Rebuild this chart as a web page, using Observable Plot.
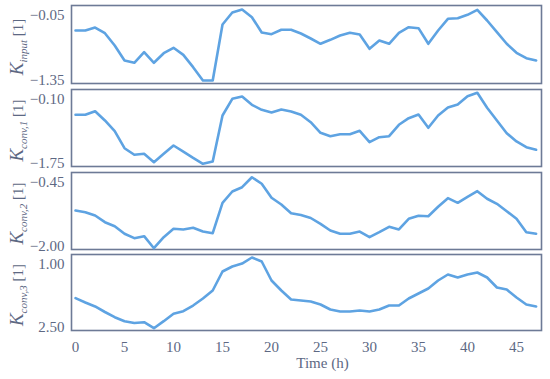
<!DOCTYPE html>
<html><head><meta charset="utf-8">
<script src="https://cdn.jsdelivr.net/npm/d3@7"></script>
<script src="https://cdn.jsdelivr.net/npm/@observablehq/plot@0.6"></script>
<style>
body{margin:0;background:#fff}
#c{position:relative;width:550px;height:379px;overflow:hidden;background:#fff}
#c svg{position:absolute;left:0;top:0;overflow:visible}
</style></head><body><div id="c"></div>
<script>
const hours = d3.range(0, 48);
const xTicks = [0, 5, 10, 15, 20, 25, 30, 35, 40, 45];
const kInput = [-0.467,-0.467,-0.417,-0.512,-0.717,-0.967,-1.005,-0.828,-1.005,-0.845,-0.755,-0.872,-1.078,-1.30,-1.30,-0.367,-0.167,-0.117,-0.245,-0.50,-0.528,-0.455,-0.455,-0.517,-0.60,-0.688,-0.622,-0.55,-0.505,-0.533,-0.772,-0.633,-0.688,-0.505,-0.412,-0.428,-0.688,-0.467,-0.272,-0.262,-0.205,-0.122,-0.30,-0.495,-0.688,-0.838,-0.928,-0.967];
const kConv1 = [-0.642,-0.642,-0.565,-0.764,-0.994,-1.358,-1.499,-1.478,-1.658,-1.478,-1.30,-1.429,-1.564,-1.692,-1.643,-0.657,-0.299,-0.25,-0.428,-0.535,-0.593,-0.529,-0.571,-0.642,-0.801,-1.028,-1.101,-1.058,-1.058,-0.985,-1.229,-1.122,-1.101,-0.856,-0.715,-0.636,-0.921,-0.657,-0.486,-0.421,-0.244,-0.171,-0.492,-0.764,-1.036,-1.214,-1.336,-1.392];
const kConv2 = [-1.215,-1.249,-1.316,-1.45,-1.531,-1.684,-1.772,-1.732,-1.974,-1.752,-1.583,-1.597,-1.563,-1.638,-1.672,-1.06,-0.832,-0.746,-0.545,-0.677,-0.959,-1.094,-1.269,-1.306,-1.366,-1.483,-1.618,-1.684,-1.684,-1.638,-1.752,-1.652,-1.543,-1.597,-1.382,-1.322,-1.33,-1.14,-0.967,-1.06,-0.939,-0.826,-0.979,-1.08,-1.229,-1.382,-1.652,-1.684];
const kConv3 = [1.862,1.947,2.026,2.135,2.237,2.316,2.352,2.336,2.455,2.316,2.17,2.119,2.007,1.868,1.711,1.336,1.237,1.178,1.059,1.138,1.513,1.711,1.888,1.908,1.928,1.987,2.086,2.125,2.125,2.105,2.125,2.086,2.007,2.007,1.868,1.77,1.671,1.513,1.395,1.454,1.395,1.355,1.454,1.651,1.691,1.849,1.987,2.026];
const yLimits = [[-1.35, -0.05], [-1.75, -0.10], [-2.00, -0.45], [1.00, 2.50]];
const subscripts = ["input", "conv,1", "conv,2", "conv,3"];
const seriesList = [kInput, kConv1, kConv2, kConv3];

const frames = [[5, 83], [89, 166], [172, 249], [254, 330]];
const W = 550, H = 379;
const lineColor = "#5ea3e2", frameColor = "#6d7a96", textColor = "#5d6883";
const fmt = d3.format(".2f");
const c = document.getElementById("c");

seriesList.forEach((vals, p) => {
  const [top, bottom] = frames[p];
  const last = p === 3;
  const [lo, hi] = yLimits[p];
  const reversed = p === 3;
  const topVal = reversed ? lo : hi;
  const botVal = reversed ? hi : lo;
  const marks = [
    Plot.frame({stroke: frameColor, strokeWidth: 1.6}),
    Plot.line(vals, {x: (d, i) => hours[i], y: d => d, stroke: lineColor, strokeWidth: 2.6, strokeLinejoin: "round"}),
    Plot.text([topVal], {y: d => d, frameAnchor: "left", textAnchor: "end", dx: -7, dy: 10, text: d => fmt(d), fill: textColor, fontSize: 15}),
    Plot.text([botVal], {y: d => d, frameAnchor: "left", textAnchor: "end", dx: -7, dy: -3, text: d => fmt(d), fill: textColor, fontSize: 15})
  ];
  if (last) {
    marks.push(Plot.axisX(xTicks, {tickSize: 0, tickPadding: 11, fontSize: 15, fill: textColor, label: null}));
    marks.push(Plot.text(["Time (h)"], {x: 25.2, frameAnchor: "bottom", dy: 37.5, fill: textColor, fontSize: 15}));
  }
  const svg = Plot.plot({
    width: W, height: H,
    marginLeft: 71, marginRight: 9, marginTop: top, marginBottom: H - bottom,
    x: {domain: [-0.41, 47.55], axis: null},
    y: {domain: [lo, hi], reverse: reversed, axis: null},
    style: {fontFamily: "Liberation Serif", fontSize: "15px", background: "transparent", color: textColor},
    marks
  });
  const cy = (top + bottom) / 2 + 3;
  const t = d3.select(svg).append("text")
    .attr("transform", `translate(23,${cy}) rotate(-90)`)
    .attr("text-anchor", "middle")
    .attr("font-family", "Liberation Serif")
    .attr("fill", textColor);
  t.append("tspan").attr("font-style", "italic").attr("font-size", 19).text("K");
  t.append("tspan").attr("font-style", "italic").attr("font-size", 11).attr("dy", 4).text(subscripts[p]);
  t.append("tspan").attr("font-size", 15).attr("dy", -4).text(" [1]");
  c.appendChild(svg);
});
</script></body></html>
